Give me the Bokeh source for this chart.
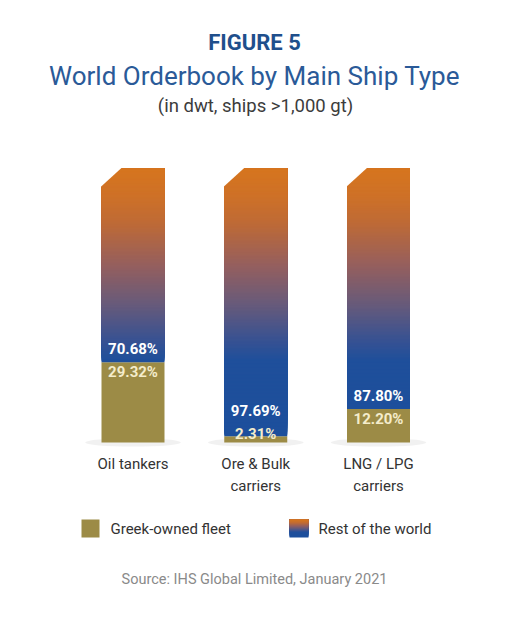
import numpy as np
from bokeh.plotting import figure
from bokeh.models import Range1d, Label, BoxAnnotation
from bokeh.embed import file_html
from bokeh.resources import INLINE
from bokeh.core.properties import value

# ---------------- data ----------------
categories = ["Oil tankers", "Ore & Bulk\ncarriers", "LNG / LPG\ncarriers"]
greek_share = [29.32, 2.31, 12.20]
rest_share = [70.68, 97.69, 87.80]
greek_labels = ["29.32%", "2.31%", "12.20%"]
rest_labels = ["70.68%", "97.69%", "87.80%"]
legend_labels = ["Greek-owned fleet", "Rest of the world"]

title_top = "FIGURE 5"
title_main = "World Orderbook by Main Ship Type"
title_sub = "(in dwt, ships >1,000 gt)"
source_note = "Source: IHS Global Limited, January 2021"

# ---------------- style ----------------
FONT = "Roboto"
OLIVE = "#9C8B46"
CREAM = "#F4ECCB"
grad_pos = [0, 30, 38, 50, 65, 80, 90, 100]
grad_col = ["#1C4F9C", "#1F4F9B", "#3A5291", "#665A7B", "#965F5D", "#BE6A36", "#CE7127", "#D6751E"]


def hex2rgb(h):
    h = h.lstrip("#")
    return np.array([int(h[i:i + 2], 16) for i in (0, 2, 4)], dtype=float)


grad_rgb = np.array([hex2rgb(c) for c in grad_col])


def grad_color(t):
    r = np.interp(t, grad_pos, grad_rgb[:, 0])
    g = np.interp(t, grad_pos, grad_rgb[:, 1])
    b = np.interp(t, grad_pos, grad_rgb[:, 2])
    return "#%02x%02x%02x" % (int(round(r)), int(round(g)), int(round(b)))


W, H = 524, 628
px_per_x = 122.75
px_per_y = 2.74
x0 = -132.5 / px_per_x
y0 = -186 / px_per_y

p = figure(width=W, height=H, output_backend="svg", toolbar_location=None,
           x_range=Range1d(x0, x0 + W / px_per_x), y_range=Range1d(y0, y0 + H / px_per_y),
           x_axis_type=None, y_axis_type=None, min_border=0,
           min_border_left=0, min_border_right=0, min_border_top=0, min_border_bottom=0)
p.grid.visible = False
p.outline_line_color = None
p.background_fill_color = "white"
p.border_fill_color = "white"

xs = list(range(len(categories)))
bw = 63 / px_per_x

# soft shadow below the bars
p.ellipse(x=xs, y=[0] * len(xs), width=0.78, height=3.0, fill_color="#777777",
          fill_alpha=0.10, line_color=None)

# Greek-owned segment
p.vbar(x=xs, bottom=0, top=greek_share, width=bw, fill_color=OLIVE, line_color=None)

# Rest of the world segment with vertical gradient: overlapping strips, drawn bottom-up
L, R, B, T, C = [], [], [], [], []
for x, g, r in zip(xs, greek_share, rest_share):
    top = g + r
    edges = np.linspace(g, top, int(round(r * 2)) + 1)
    for lo, hi in zip(edges[:-1], edges[1:]):
        L.append(x - bw / 2)
        R.append(x + bw / 2)
        B.append(lo)
        T.append(top)
        C.append(grad_color((lo + hi) / 2))
p.quad(left=L, right=R, bottom=B, top=T, fill_color=C, line_color=None)

# chamfered top-left corner
cut_x = 21 / px_per_x
cut_y = 19 / px_per_y
pad_x = 2 / px_per_x
pad_y = 2 / px_per_y
tri_x, tri_y = [], []
for x, g, r in zip(xs, greek_share, rest_share):
    top = g + r
    lx = x - bw / 2
    tri_x.append([lx - pad_x, lx - pad_x, lx + cut_x + pad_x * 0.3, lx - pad_x])
    tri_y.append([top - cut_y - pad_y * 0.3, top + pad_y, top + pad_y, top - cut_y - pad_y * 0.3])
p.patches(xs=tri_x, ys=tri_y, fill_color="white", line_color=None)

# value labels (anchored at the segment boundary, with a minimum room for small shares)
label_room = 19 / px_per_y
label_y = [max(g, label_room) for g in greek_share]
p.text(x=xs, y=label_y, text=rest_labels, text_align="center", text_baseline="bottom",
       y_offset=-4, text_color="white", text_font=value(FONT), text_font_size="15px",
       text_font_style="bold")
p.text(x=xs, y=label_y, text=greek_labels, text_align="center", text_baseline="top",
       y_offset=1, text_color=CREAM, text_font=value(FONT), text_font_size="15px",
       text_font_style="bold")

# category labels
p.text(x=xs, y=[0] * len(xs), text=categories, text_align="center", text_baseline="top",
       y_offset=12, text_color="#333333", text_font=value(FONT), text_font_size="15px",
       text_line_height=1.25)

# titles
p.add_layout(Label(x=254, y=586, x_units="screen", y_units="screen", text=title_top,
                   text_align="center", text_baseline="middle", text_font=FONT,
                   text_font_size="22px", text_font_style="bold", text_color="#1F4F8C"))
p.add_layout(Label(x=254, y=553, x_units="screen", y_units="screen", text=title_main,
                   text_align="center", text_baseline="middle", text_font=FONT,
                   text_font_size="26px", text_color="#2A5A98"))
p.add_layout(Label(x=255, y=523, x_units="screen", y_units="screen", text=title_sub,
                   text_align="center", text_baseline="middle", text_font=FONT,
                   text_font_size="18.5px", text_color="#3C3C3C"))
p.add_layout(Label(x=254, y=49, x_units="screen", y_units="screen", text=source_note,
                   text_align="center", text_baseline="middle", text_font=FONT,
                   text_font_size="14.5px", text_color="#8A8A8A"))

# legend
p.add_layout(BoxAnnotation(left=81, right=99, bottom=91, top=109, left_units="screen",
                           right_units="screen", bottom_units="screen", top_units="screen",
                           fill_color=OLIVE, fill_alpha=1, line_color=None))
for k in range(18):
    t = 100 * (k + 0.5) / 18
    p.add_layout(BoxAnnotation(left=289, right=308, bottom=91 + k, top=109,
                               left_units="screen", right_units="screen",
                               bottom_units="screen", top_units="screen",
                               fill_color=grad_color(t), fill_alpha=1, line_color=None))
p.add_layout(Label(x=110, y=100, x_units="screen", y_units="screen", text=legend_labels[0],
                   text_align="left", text_baseline="middle", text_font=FONT,
                   text_font_size="15px", text_color="#333333"))
p.add_layout(Label(x=318, y=100, x_units="screen", y_units="screen", text=legend_labels[1],
                   text_align="left", text_baseline="middle", text_font=FONT,
                   text_font_size="15px", text_color="#333333"))

open("out.html", "w").write(file_html(p, INLINE))
